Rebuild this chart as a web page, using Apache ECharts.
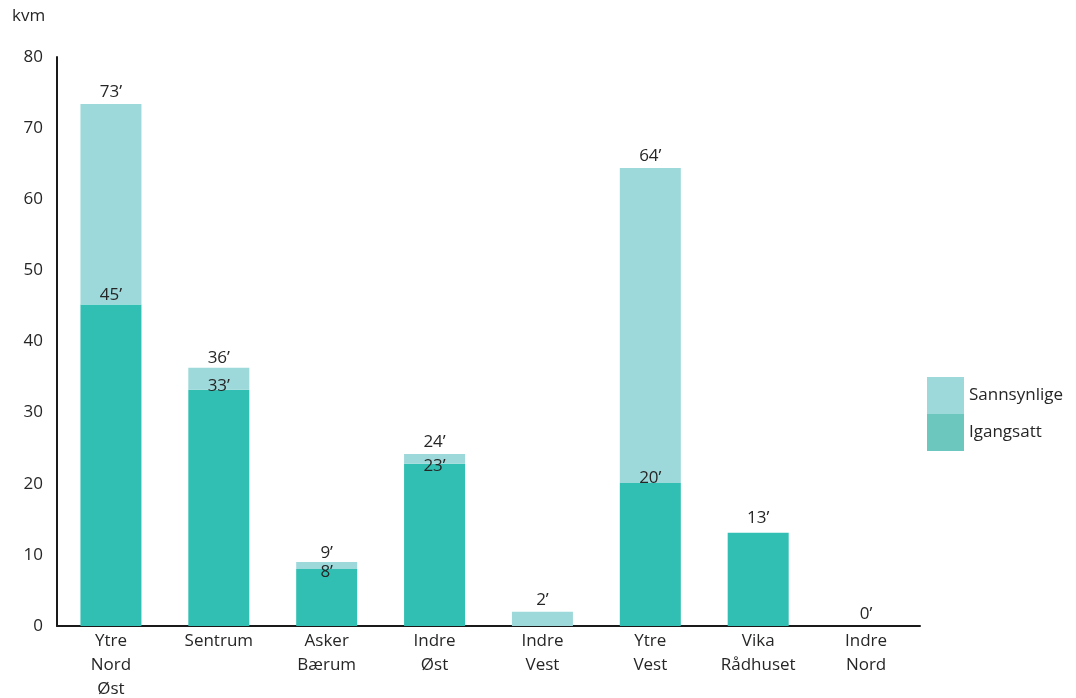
<!DOCTYPE html>
<html><head><meta charset="utf-8">
<script src="https://cdn.jsdelivr.net/npm/echarts@6/dist/echarts.min.js"></script>
<style>html,body{margin:0;padding:0;background:#fff}#c{width:1076px;height:698px}</style>
</head><body><div id="c"></div>
<script>
const categories = ['Ytre\nNord\nØst', 'Sentrum', 'Asker\nBærum', 'Indre\nØst', 'Indre\nVest', 'Ytre\nVest', 'Vika\nRådhuset', 'Indre\nNord'];
const igangsatt = [45.2, 33.2, 8.0, 22.8, 0, 20.1, 13.1, 0];
const sannsynlige = [28.2, 3.1, 1.0, 1.4, 2.0, 44.3, 0, 0];
const yTicks = [0, 10, 20, 30, 40, 50, 60, 70, 80];

// label placement nudges (style only)
const darkLabelNudge = [0, 6, 13, 12, 0, 5, 0, 0];
const totalLabelNudge = [0, 2, 3, 0, 0, 0, -3, 0];

const FONT = '"Open Sans", "Noto Sans", sans-serif';
const TXT = '#262626';
const DARK = '#32BFB3';
const LIGHT = '#9DD9DA';
const FS = 17;

const chart = echarts.init(document.getElementById('c'));
chart.setOption({
  animation: false,
  textStyle: { fontFamily: FONT },
  title: { text: 'kvm', left: 7, top: 3, textStyle: { fontSize: FS, fontWeight: 'normal', color: TXT, fontFamily: FONT } },
  grid: { left: 57, right: 156, top: 57, bottom: 72, outerBoundsMode: 'none' },
  legend: {
    orient: 'vertical', left: 922, top: 372, itemGap: 0, itemWidth: 37, itemHeight: 37,
    icon: 'rect',
    textStyle: { fontSize: FS, color: TXT, fontFamily: FONT },
    data: [
      { name: 'Sannsynlige', itemStyle: { color: LIGHT } },
      { name: 'Igangsatt', itemStyle: { color: '#6CC8BE' } }
    ]
  },
  xAxis: {
    type: 'category', data: categories,
    axisLine: { lineStyle: { color: '#1a1a1a', width: 2 } },
    axisTick: { show: false },
    axisLabel: { fontSize: FS, color: TXT, lineHeight: 24, margin: 3, interval: 0, fontFamily: FONT }
  },
  yAxis: {
    type: 'value', min: yTicks[0], max: yTicks[yTicks.length - 1], interval: 10,
    splitLine: { show: false },
    axisLine: { show: true, lineStyle: { color: '#1a1a1a', width: 2 } },
    axisTick: { show: false },
    axisLabel: { fontSize: FS, color: TXT, margin: 14, fontFamily: FONT }
  },
  series: [
    {
      name: 'Igangsatt', type: 'bar', stack: 'a', barWidth: 61,
      data: igangsatt.map((v, i) => ({ value: v, label: { offset: [0, darkLabelNudge[i]] } })),
      itemStyle: { color: DARK },
      label: {
        show: true, position: 'top', distance: 1, fontSize: FS, color: TXT, fontFamily: FONT,
        formatter: p => (igangsatt[p.dataIndex] > 0 && sannsynlige[p.dataIndex] > 0) ? Math.round(p.value) + '’' : ''
      }
    },
    {
      name: 'Sannsynlige', type: 'bar', stack: 'a', barWidth: 61,
      data: sannsynlige.map((v, i) => ({ value: v, label: { offset: [0, totalLabelNudge[i]] } })),
      itemStyle: { color: LIGHT },
      label: {
        show: true, position: 'top', distance: 3, fontSize: FS, color: TXT, fontFamily: FONT,
        formatter: p => Math.round(igangsatt[p.dataIndex] + sannsynlige[p.dataIndex]) + '’'
      }
    }
  ]
});
</script></body></html>
